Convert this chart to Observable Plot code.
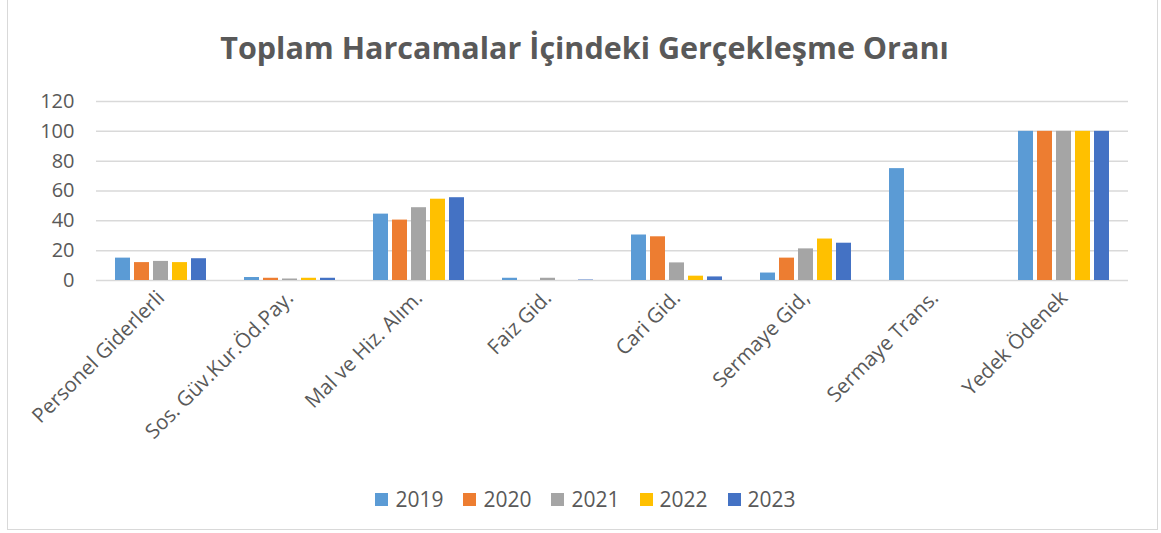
<!DOCTYPE html>
<html>
<head>
<meta charset="utf-8">
<script src="https://cdn.jsdelivr.net/npm/d3@7"></script>
<script src="https://cdn.jsdelivr.net/npm/@observablehq/plot@0.6"></script>
<style>
  html, body { margin: 0; padding: 0; background: #fff; }
  #wrap { position: relative; width: 1161px; height: 533px; overflow: hidden; font-family: "Open Sans", sans-serif; color: #595959; }
  #frame { position: absolute; left: 7px; top: -2px; width: 1151px; height: 532px; border: 1px solid #d9d9d9; box-sizing: border-box; }
  #title { position: absolute; left: 0; width: 1161px; top: 26px; text-align: center; font-weight: bold; font-size: 30.5px; line-height: normal; color: #595959; padding-left: 8px; box-sizing: border-box; }
  #chart { position: absolute; left: 0; top: 80px; }
  #legend { position: absolute; top: 485px; left: 0; width: 1161px; display: flex; justify-content: center; gap: 20px; font-size: 21px; color: #595959; padding-left: 10px; box-sizing: border-box; }
  .item { display: flex; align-items: center; gap: 7px; }
  .sw { width: 13px; height: 13px; display: inline-block; }
</style>
</head>
<body>
<div id="wrap">
  <div id="frame"></div>
  <div id="title">Toplam Harcamalar İçindeki Gerçekleşme Oranı</div>
  <div id="chart"></div>
  <div id="legend"></div>
</div>
<script>
const categories = ["Personel Giderlerli", "Sos. Güv.Kur.Öd.Pay.", "Mal ve Hiz. Alım.", "Faiz Gid.", "Cari Gid.", "Sermaye Gid,", "Sermaye Trans.", "Yedek Ödenek"];
const years = ["2019", "2020", "2021", "2022", "2023"];
const colors = ["#5B9BD5", "#ED7D31", "#A5A5A5", "#FFC000", "#4472C4"];
const v2019 = [15, 2, 44.5, 1.5, 30.5, 5, 75, 100];
const v2020 = [12, 1.5, 40.5, 0, 29.3, 15, 0, 100];
const v2021 = [12.8, 1, 48.8, 1.5, 11.8, 21.2, 0, 100];
const v2022 = [12, 1.5, 54.5, 0, 2.9, 27.8, 0, 100];
const v2023 = [14.6, 1.5, 55.5, 0.3, 2.4, 25, 0, 100];
const yTicks = [0, 20, 40, 60, 80, 100, 120];

const series = [v2019, v2020, v2021, v2022, v2023];
const data = [];
categories.forEach((c, i) => {
  years.forEach((y, j) => data.push({cat: c, year: y, value: series[j][i]}));
});

const chart = Plot.plot({
  width: 1161,
  height: 380,
  marginTop: 21,
  marginBottom: 180,
  marginLeft: 94,
  marginRight: 31,
  style: {fontFamily: "Open Sans", fontSize: "19px", color: "#595959", background: "transparent"},
  fx: {domain: categories, padding: 0, label: null},
  x: {domain: years, paddingInner: 0.2, paddingOuter: 0.9, axis: null},
  y: {domain: [0, 120], ticks: yTicks, label: null},
  color: {domain: years, range: colors},
  marks: [
    Plot.ruleY(yTicks, {stroke: "#d9d9d9", strokeWidth: 1.5}),
    Plot.barY(data, {fx: "cat", x: "year", y: "value", fill: "year", inset: 0}),
    Plot.axisY({ticks: yTicks, tickSize: 0, tickPadding: 22, fontSize: 20, label: null}),
    Plot.axisFx({anchor: "bottom", tickRotate: -45, tickSize: 0, tickPadding: 14, fontSize: 20.5, label: null})
  ]
});
document.getElementById("chart").appendChild(chart);

const legend = document.getElementById("legend");
years.forEach((y, i) => {
  const it = document.createElement("div");
  it.className = "item";
  const sw = document.createElement("span");
  sw.className = "sw";
  sw.style.background = colors[i];
  const t = document.createElement("span");
  t.textContent = y;
  it.appendChild(sw); it.appendChild(t);
  legend.appendChild(it);
});
</script>
</body>
</html>
